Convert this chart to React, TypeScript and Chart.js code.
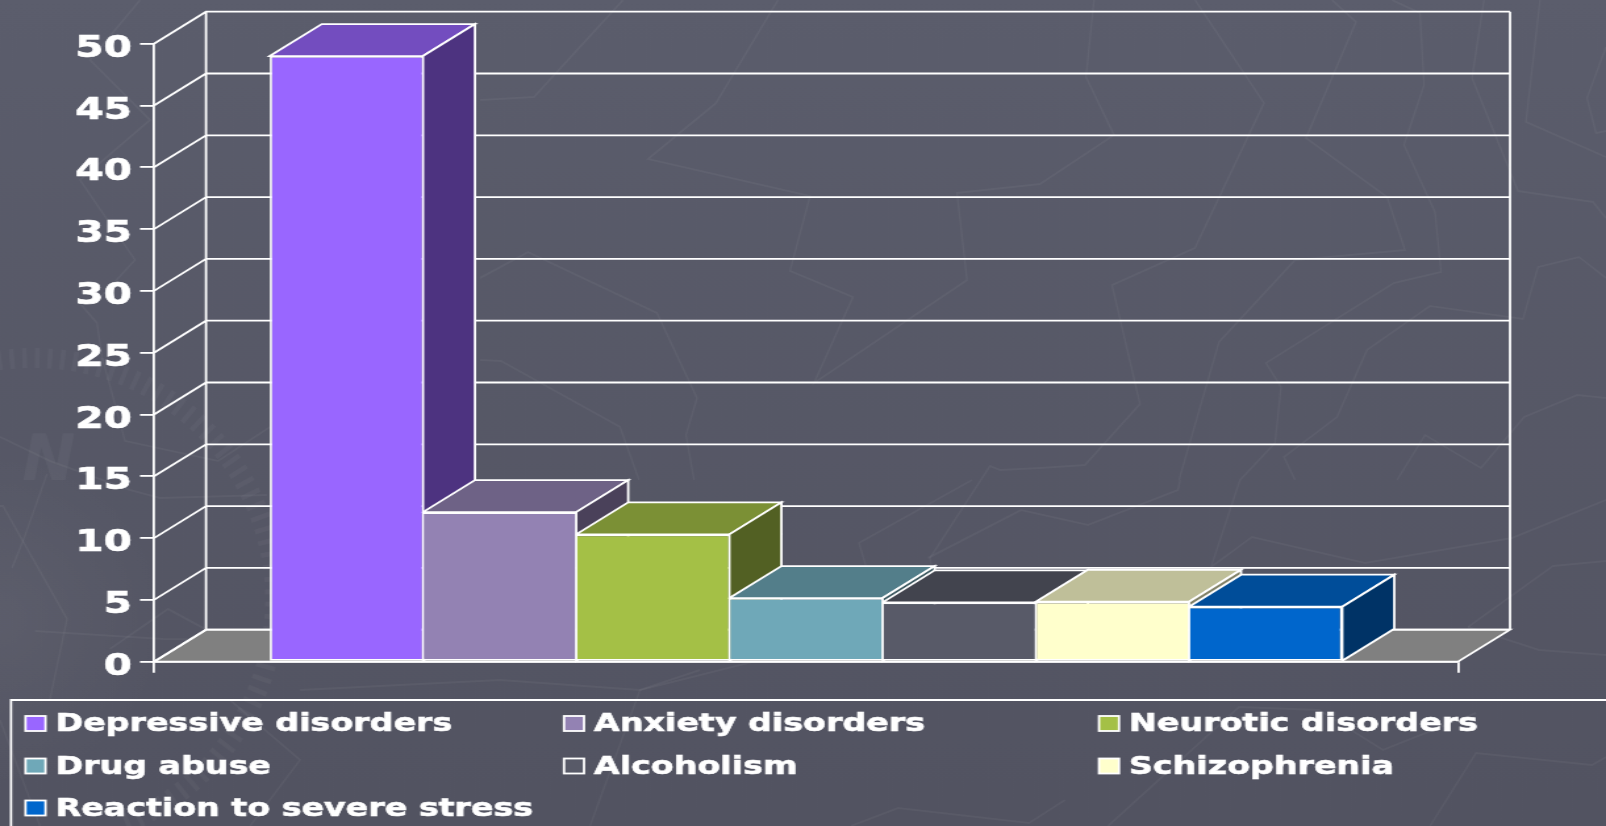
import React, { useEffect, useRef } from "react";
import { Chart, registerables } from "chart.js";

Chart.register(...registerables);

// Series, one bar each
const seriesNames = [
  "Depressive disorders",
  "Anxiety disorders",
  "Neurotic disorders",
  "Drug abuse",
  "Alcoholism",
  "Schizophrenia",
  "Reaction to severe stress",
];
const seriesValues = [49, 12.1, 10.3, 5.15, 4.8, 4.85, 4.45];
const seriesColors = ["#9966ff", "#9382b3", "#a4c046", "#6fa8b8", "#585a68", "#ffffcc", "#0066cc"];
const categories = [""];
const axisMax = 50;
const axisStep = 5;

// The slide is laid out narrow and widened by this factor, which gives the extended lettering
const PAGE_W = 1606;
const PAGE_H = 826;
const CANVAS_W = 1221;
const STRETCH = PAGE_W / CANVAS_W;

const FONT = '"DejaVu Sans"';
const DEPTH_X = 52 / STRETCH;
const DEPTH_Y = 32;
const LINE = 1.8;

// Faint map-like tracery of the slide background, in page pixels
const backdropPaths = [
  [[480,100],[534,97],[623,0]],
  [[778,0],[716,103],[648,159],[810,196],[790,271],[853,297],[814,383],[967,280],[957,193],[1040,184],[1114,135],[1086,77],[1094,0]],
  [[480,278],[528,252],[657,313],[697,398],[686,435],[694,480]],
  [[480,360],[501,361],[620,427],[639,480]],
  [[1195,0],[1264,103],[1195,248],[1112,285],[1140,404],[1085,465],[1040,468],[1000,470],[990,466],[930,558],[933,575]],
  [[1392,0],[1420,13],[1424,85],[1404,145],[1435,212],[1441,272],[1394,283],[1266,363],[1281,387],[1275,443],[1240,480],[1211,567],[1252,537],[1365,563],[1512,538],[1606,500]],
  [[1332,0],[1356,22],[1306,138],[1387,197],[1405,250],[1295,260],[1219,342],[1179,480]],
  [[1484,0],[1472,78],[1518,191],[1593,202],[1606,218]],
  [[1540,0],[1526,122],[1606,157]],
  [[1606,47],[1587,98],[1596,133],[1606,131]],
  [[1295,480],[1284,457],[1337,417],[1367,350],[1430,306],[1523,319],[1538,267],[1579,257],[1606,278]],
  [[1397,480],[1425,435],[1481,468],[1524,417],[1577,395],[1606,398]],
  [[1468,627],[1553,566],[1606,561]],
  [[1468,627],[1539,650],[1606,655]],
  [[1430,826],[1476,753],[1592,765],[1606,757]],
  [[851,826],[898,808],[1029,823],[1065,800]],
  [[972,480],[859,543],[867,570]],
  [[928,558],[1021,510],[1088,525],[1178,490],[1180,480]],
  [[1108,826],[1239,707],[1319,710],[1383,750],[1476,713]],
  [[77,300],[97,323],[102,357],[125,441],[218,461],[270,427]],
  [[0,437],[50,461],[130,490],[160,498],[267,495]],
  [[0,506],[3,506],[67,619],[50,699]],
  [[47,474],[23,541],[12,568]],
  [[35,631],[163,639],[270,640]],
  [[110,649],[168,609],[205,629]],
  [[140,0],[90,60],[150,120],[80,180],[135,260],[98,300]],
  [[300,690],[500,680],[640,690],[700,670]],
  [[590,826],[640,690],[760,660]],
  [[0,720],[40,826]],
  [[250,826],[300,760],[230,700]],
];

const backdrop = {
  id: "backdrop",
  beforeDraw(chart: any) {
    const c = chart.ctx;
    c.save();
    c.scale(1 / STRETCH, 1);
    const g = c.createLinearGradient(0, 0, 0, PAGE_H);
    g.addColorStop(0, "#5b5d6c");
    g.addColorStop(1, "#525361");
    c.fillStyle = g;
    c.fillRect(0, 0, PAGE_W, PAGE_H);

    const glow = c.createRadialGradient(0, 620, 10, 0, 620, 170);
    glow.addColorStop(0, "rgba(255,255,255,0.045)");
    glow.addColorStop(1, "rgba(255,255,255,0)");
    c.fillStyle = glow;
    c.fillRect(0, 420, 200, 406);

    c.strokeStyle = "rgba(255,255,255,0.045)";
    c.lineWidth = 2;
    c.lineJoin = "miter";
    for (const path of backdropPaths) {
      c.beginPath();
      path.forEach(([x, y], i) => (i ? c.lineTo(x, y) : c.moveTo(x, y)));
      c.stroke();
    }

    // Compass ring and north mark
    c.lineWidth = 5;
    c.strokeStyle = "rgba(255,255,255,0.035)";
    for (let a = -98; a <= 68; a += 3) {
      const r = (a * Math.PI) / 180;
      const inner = 232;
      const outer = a % 15 === 0 ? 272 : 252;
      c.beginPath();
      c.moveTo(33 + inner * Math.cos(r), 600 + inner * Math.sin(r));
      c.lineTo(33 + outer * Math.cos(r), 600 + outer * Math.sin(r));
      c.stroke();
    }
    c.fillStyle = "rgba(255,255,255,0.04)";
    c.font = `italic bold 64px ${FONT}`;
    c.textAlign = "left";
    c.textBaseline = "alphabetic";
    c.fillText("N", 22, 480);
    c.restore();
  },
};

const shade = (hex: string, f: number) => {
  const n = parseInt(hex.slice(1), 16);
  const ch = (s: number) => Math.round(((n >> s) & 255) * f);
  return `rgb(${ch(16)},${ch(8)},${ch(0)})`;
};

const quad = (c: any, pts: number[][], fill: string | null) => {
  c.beginPath();
  pts.forEach(([x, y], i) => (i ? c.lineTo(x, y) : c.moveTo(x, y)));
  c.closePath();
  if (fill) {
    c.fillStyle = fill;
    c.fill();
  }
  c.stroke();
};

// Back wall, side wall and floor, then the top and side faces of every bar,
// leaving the library to paint the front faces over them
const depthBox = {
  id: "depthBox",
  beforeDatasetsDraw(chart: any) {
    const c = chart.ctx;
    const { left, right, top, bottom } = chart.chartArea;
    const y = chart.scales.y;
    c.save();
    c.strokeStyle = "#ffffff";
    c.lineWidth = LINE;
    c.lineJoin = "miter";

    quad(c, [[left, bottom], [left + DEPTH_X, bottom - DEPTH_Y], [right + DEPTH_X, bottom - DEPTH_Y], [right, bottom]], "#808080");
    c.beginPath();
    for (const t of y.ticks) {
      const py = y.getPixelForValue(t.value);
      c.moveTo(left, py);
      c.lineTo(left + DEPTH_X, py - DEPTH_Y);
      c.lineTo(right + DEPTH_X, py - DEPTH_Y);
    }
    c.moveTo(left + DEPTH_X, top - DEPTH_Y);
    c.lineTo(left + DEPTH_X, bottom - DEPTH_Y);
    c.moveTo(right + DEPTH_X, top - DEPTH_Y);
    c.lineTo(right + DEPTH_X, bottom - DEPTH_Y);
    c.stroke();

    chart.data.datasets.forEach((ds: any, i: number) => {
      const bar = chart.getDatasetMeta(i).data[0];
      const l = bar.x - bar.width / 2;
      const r = bar.x + bar.width / 2;
      const color = ds.backgroundColor;
      quad(c, [[l, bar.y], [l + DEPTH_X, bar.y - DEPTH_Y], [r + DEPTH_X, bar.y - DEPTH_Y], [r, bar.y]], shade(color, 0.75));
      quad(c, [[r, bar.y], [r + DEPTH_X, bar.y - DEPTH_Y], [r + DEPTH_X, bar.base - DEPTH_Y], [r, bar.base]], shade(color, 0.5));
    });
    c.restore();
  },
};

// Three-column legend inside a box that runs off the page
const columnLegend = {
  id: "columnLegend",
  afterDraw(chart: any) {
    const c = chart.ctx;
    const swatchX = [25.5, 564, 1099];
    const rows = [723.5, 766, 808];
    const swatchW = 20 / STRETCH;
    c.save();
    c.strokeStyle = "#ffffff";
    c.lineWidth = LINE;
    c.beginPath();
    c.moveTo(11 / STRETCH, PAGE_H + 4);
    c.lineTo(11 / STRETCH, 700);
    c.lineTo(CANVAS_W + 4, 700);
    c.stroke();
    c.font = `bold 25.3px ${FONT}`;
    c.textAlign = "left";
    c.textBaseline = "alphabetic";
    chart.data.datasets.forEach((ds: any, i: number) => {
      const col = i % 3;
      const row = Math.floor(i / 3);
      const sx = swatchX[col] / STRETCH;
      c.fillStyle = ds.backgroundColor;
      c.lineWidth = LINE;
      c.fillRect(sx, rows[row] - 7.5, swatchW, 15);
      c.strokeRect(sx, rows[row] - 7.5, swatchW, 15);
      c.fillStyle = "#ffffff";
      c.lineWidth = 0.6;
      c.strokeText(ds.label, sx + swatchW + 10 / STRETCH, rows[row] + 7.5);
      c.fillText(ds.label, sx + swatchW + 10 / STRETCH, rows[row] + 7.5);
    });
    c.restore();
  },
};

export default function App() {
  const ref = useRef<HTMLCanvasElement>(null);

  useEffect(() => {
    document.body.style.margin = "0";
    document.body.style.overflow = "hidden";
    document.body.style.background = "#555766";
    const chart = new Chart(ref.current!, {
      type: "bar",
      data: {
        labels: categories,
        datasets: seriesNames.map((label, i) => ({
          label,
          data: [seriesValues[i]],
          backgroundColor: seriesColors[i],
          borderColor: "#ffffff",
          // Neighbouring bars share one boundary line
          borderWidth: {
            top: LINE,
            bottom: LINE,
            left: i === 0 ? LINE : LINE / 2,
            right: i === seriesNames.length - 1 ? LINE : LINE / 2,
          },
          borderSkipped: false,
          categoryPercentage: 0.8225,
          barPercentage: 1,
        })),
      },
      options: {
        responsive: false,
        animation: false,
        layout: {
          padding: { left: 0, right: (PAGE_W - 1458) / STRETCH, top: 43.7, bottom: PAGE_H - 661.7 - 11 },
        },
        plugins: { legend: { display: false }, tooltip: { enabled: false }, title: { display: false } },
        scales: {
          x: {
            grid: { drawOnChartArea: false, drawTicks: true, tickLength: 11, color: "#ffffff", lineWidth: LINE },
            border: { display: true, color: "#ffffff", width: LINE },
            ticks: { display: false },
            afterFit: (s: any) => {
              s.height = 11;
            },
          },
          y: {
            min: 0,
            max: axisMax,
            grid: { drawOnChartArea: false, drawTicks: true, tickLength: 14 / STRETCH, color: "#ffffff", lineWidth: LINE },
            border: { display: true, color: "#ffffff", width: LINE },
            ticks: {
              stepSize: axisStep,
              autoSkip: false,
              color: "#ffffff",
              padding: 8 / STRETCH,
              labelOffset: 5,
              textStrokeColor: "#ffffff",
              textStrokeWidth: 0.7,
              font: { family: FONT, weight: "bold", size: 31 },
            },
            afterFit: (s: any) => {
              s.width = 154 / STRETCH;
            },
          },
        },
      } as any,
      plugins: [backdrop, depthBox, columnLegend],
    });
    return () => chart.destroy();
  }, []);

  return (
    <div style={{ width: PAGE_W, height: PAGE_H, overflow: "hidden" }}>
      <canvas
        ref={ref}
        width={CANVAS_W}
        height={PAGE_H}
        style={{
          display: "block",
          width: CANVAS_W,
          height: PAGE_H,
          transform: `scaleX(${STRETCH})`,
          transformOrigin: "0 0",
        }}
      />
    </div>
  );
}
